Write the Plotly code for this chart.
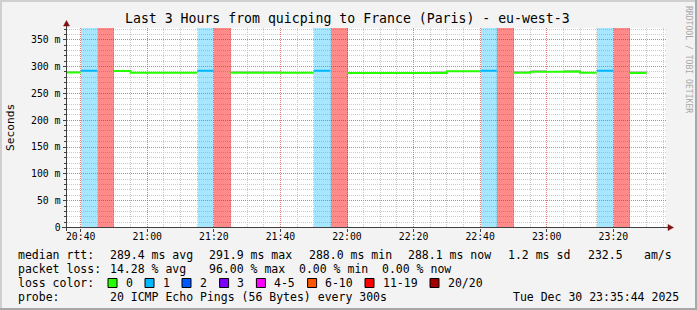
import plotly.graph_objects as go
from datetime import datetime, timedelta

# ---------------- data ----------------
DAY = "2025-12-30"
TITLE = "Last 3 Hours from quicping to France (Paris) - eu-west-3"
Y_LABEL = "Seconds"
WATERMARK = "RRDTOOL / TOBI OETIKER"
RANGE_START = "20:35:44"
RANGE_END = "23:35:44"

step_starts = ["20:35", "20:40", "20:45", "20:50", "20:55", "21:00", "21:05", "21:10",
               "21:15", "21:20", "21:25", "21:30", "21:35", "21:40", "21:45", "21:50",
               "21:55", "22:00", "22:05", "22:10", "22:15", "22:20", "22:25", "22:30",
               "22:35", "22:40", "22:45", "22:50", "22:55", "23:00", "23:05", "23:10",
               "23:15", "23:20", "23:25", "23:30"]
median_ms = [288.9, 292.4, None, 291.9, 288.5, 288.5, 288.5, 288.5,
             292.4, None, 288.6, 288.6, 288.6, 288.6, 288.6, 292.4,
             None, 288.0, 288.0, 288.0, 288.0, 288.0, 288.0, 291.3,
             291.3, 292.4, None, 288.5, 290.2, 290.3, 290.8, 288.6,
             292.4, None, 288.1, None]
lost_pings = [0, 1, 19, 0, 0, 0, 0, 0,
              1, 19, 0, 0, 0, 0, 0, 1,
              19, 0, 0, 0, 0, 0, 0, 0,
              0, 1, 19, 0, 0, 0, 0, 0,
              1, 19, 0, None]
smoke_top_ms = [292.0, None, None, None, None, None, None, None,
                None, None, 291.6, 291.6, 291.6, None, None, None,
                None, None, None, None, None, None, 291.2, None,
                None, None, None, 291.2, 292.2, None, 293.0, None,
                None, None, 291.2, None]

x_tick_labels = ["20:40", "21:00", "21:20", "21:40", "22:00", "22:20", "22:40", "23:00", "23:20"]
y_tick_values = [0, 50, 100, 150, 200, 250, 300, 350]
y_tick_labels = ["0", "50 m", "100 m", "150 m", "200 m", "250 m", "300 m", "350 m"]
Y_MAX = 372

rtt_label = "median rtt:"
rtt_stats = ["289.4 ms avg", "291.9 ms max", "288.0 ms min", "288.1 ms now", "1.2 ms sd", "232.5", "am/s"]
loss_label = "packet loss:"
loss_stats = ["14.28 % avg", "96.00 % max", "0.00 % min", "0.00 % now"]
color_label = "loss color:"
loss_buckets = ["0", "1", "2", "3", "4-5", "6-10", "11-19", "20/20"]
probe_label = "probe:"
probe_text = "20 ICMP Echo Pings (56 Bytes) every 300s"
stamp_text = "Tue Dec 30 23:35:44 2025"

# ---------------- style ----------------
W, H = 697, 310
MONO = "DejaVu Sans Mono"
bucket_colors = ["#26ff00", "#00b8ff", "#0059ff", "#7e00ff", "#ff00ff", "#ff5500", "#ff0000", "#a10000"]
band_alpha = {1: "rgba(0,184,255,0.35)", 6: "rgba(255,0,0,0.46)"}


def bucket_of(n):
    if n == 0:
        return 0
    if n <= 3:
        return n
    if n <= 5:
        return 4
    if n <= 10:
        return 5
    if n <= 19:
        return 6
    return 7


def px(x):
    return x / W


def py(y):
    return 1 - y / H


def t(hm):
    s = hm if hm.count(":") == 2 else hm + ":00"
    return datetime.strptime(DAY + " " + s, "%Y-%m-%d %H:%M:%S")


STEP = timedelta(minutes=5)
starts = [t(s) for s in step_starts]
centers = [s + STEP / 2 for s in starts]

fig = go.Figure()

# loss background bands
for b, col in band_alpha.items():
    xs = [c for c, n in zip(centers, lost_pings) if n is not None and n > 0 and bucket_of(n) == b]
    fig.add_trace(go.Bar(x=xs, y=[Y_MAX] * len(xs), base=0, width=300000,
                         marker=dict(color=col, line=dict(width=0)), hoverinfo="skip"))

# smoke
sx, sy, sb = [], [], []
for c, m, top in zip(centers, median_ms, smoke_top_ms):
    if m is not None and top is not None:
        sx.append(c)
        sb.append(m)
        sy.append(top - m)
fig.add_trace(go.Bar(x=sx, y=sy, base=sb, width=300000,
                     marker=dict(color="#c4c4c4", line=dict(width=0)), hoverinfo="skip"))

# median line, coloured by loss bucket
for b in sorted(set(bucket_of(n) for n in lost_pings if n is not None)):
    xs, ys = [], []
    prev = False
    for s, m, n in zip(starts, median_ms, lost_pings):
        ok = m is not None and n is not None and bucket_of(n) == b
        if ok:
            xs += [s, s + STEP]
            ys += [m, m]
        elif prev:
            xs.append(None)
            ys.append(None)
        prev = ok
    fig.add_trace(go.Scatter(x=xs, y=ys, mode="lines",
                             line=dict(color=bucket_colors[b], width=2),
                             connectgaps=False, hoverinfo="skip"))

shapes = []


def rect(x0, x1, y0, y1, fill, lc=None, lw=0):
    shapes.append(dict(type="rect", xref="paper", yref="paper",
                       x0=px(x0), x1=px(x1), y0=py(y1), y1=py(y0),
                       fillcolor=fill, line=dict(color=lc or fill, width=lw), layer="above"))


def seg(x0, y0, x1, y1, color, w=1):
    shapes.append(dict(type="line", xref="paper", yref="paper",
                       x0=px(x0), x1=px(x1), y0=py(y0), y1=py(y1),
                       line=dict(color=color, width=w), layer="above"))


def tri(pts, color):
    p = "M " + " L ".join(f"{px(a)},{py(b)}" for a, b in pts) + " Z"
    shapes.append(dict(type="path", xref="paper", yref="paper", path=p,
                       fillcolor=color, line=dict(color=color, width=0.5), layer="above"))


# 3D frame
rect(0, W, 0, 2, "#cfcfcf")
rect(0, 2, 0, H, "#cfcfcf")
rect(0, W, H - 2, H, "#a8a8a8")
rect(W - 2, W, 0, H, "#a8a8a8")

AX_X, AX_Y = 66.5, 227.5
seg(AX_X, 231, AX_X, 25, "#404040")
seg(62, AX_Y, 668, AX_Y, "#404040")
tri([(63.5, 26), (69.5, 26), (66.5, 20.5)], "#7f1010")
tri([(668, 224.5), (668, 230.5), (673.5, 227.5)], "#7f1010")

ann = []
FS = 11.5
ROWS = [254.5, 268.8, 283.0, 297.2]


def txt(x, y, s, size=FS, color="#000000", anchor="left", angle=0):
    ann.append(dict(text=s, x=px(x), y=py(y), xref="paper", yref="paper", showarrow=False,
                    xanchor=anchor, yanchor="middle", textangle=angle,
                    font=dict(family=MONO, size=size, color=color)))


txt(347.5, 19, TITLE, size=13.2, anchor="center")
txt(11, 128, Y_LABEL, size=11.2, anchor="center", angle=-90)
txt(689, 59, WATERMARK, size=8.1, color="#a8a8a8", anchor="center", angle=90)

rtt_x = [107.6, 207, 306.7, 406, 505.8, 585.8, 642]
txt(16, ROWS[0], rtt_label)
for x, s in zip(rtt_x, rtt_stats):
    txt(x, ROWS[0], s)
loss_x = [107.6, 207, 297, 380]
txt(16, ROWS[1], loss_label)
for x, s in zip(loss_x, loss_stats):
    txt(x, ROWS[1], s)
txt(16, ROWS[2], color_label)
box_x = [108, 145, 182, 219.6, 256.4, 307.6, 365, 430]
for x, s, c in zip(box_x, loss_buckets, bucket_colors):
    rect(x, x + 9, ROWS[2] - 4.5, ROWS[2] + 4.5, c, "#000000", 1)
    txt(x + 15.5, ROWS[2], s)
txt(16, ROWS[3], probe_label)
txt(107.6, ROWS[3], probe_text)
txt(680.5, ROWS[3], stamp_text, anchor="right")

x0 = t(RANGE_START)
x1 = t(RANGE_END)
fig.update_layout(
    width=W, height=H, autosize=False,
    margin=dict(l=0, r=0, t=0, b=0, pad=0),
    paper_bgcolor="#f3f3f3", plot_bgcolor="#ffffff",
    showlegend=False, barmode="overlay", bargap=0,
    shapes=shapes, annotations=ann,
    xaxis=dict(
        type="date", range=[x0, x1], domain=[px(66.5), px(665.7)], automargin=False,
        tickmode="array", tickvals=[t(s) for s in x_tick_labels], ticktext=x_tick_labels,
        tickfont=dict(family=MONO, size=9.8, color="#000000"),
        ticks="outside", ticklen=3, tickcolor="#404040", ticklabelstandoff=-3,
        showgrid=True, gridcolor="rgba(255,0,0,0.38)", griddash="1px,1px", gridwidth=1,
        minor=dict(dtick=300000, tick0=t("20:40"), showgrid=True, gridcolor="#c9c9c9",
                   griddash="1px,1px", ticks=""),
        showline=False, zeroline=False, fixedrange=True,
    ),
    yaxis=dict(
        range=[0, Y_MAX], domain=[py(227.5), py(28)], automargin=False,
        tickmode="array", tickvals=y_tick_values, ticktext=y_tick_labels,
        tickfont=dict(family=MONO, size=9.8, color="#000000"),
        ticks="outside", ticklen=3, tickcolor="#404040",
        showgrid=True, gridcolor="rgba(255,0,0,0.38)", griddash="1px,1px", gridwidth=1,
        minor=dict(dtick=10, showgrid=True, gridcolor="#c9c9c9", griddash="1px,1px",
                   ticks="outside", ticklen=2, tickcolor="#404040"),
        showline=False, zeroline=False, fixedrange=True,
    ),
)

fig.write_html("out.html")
